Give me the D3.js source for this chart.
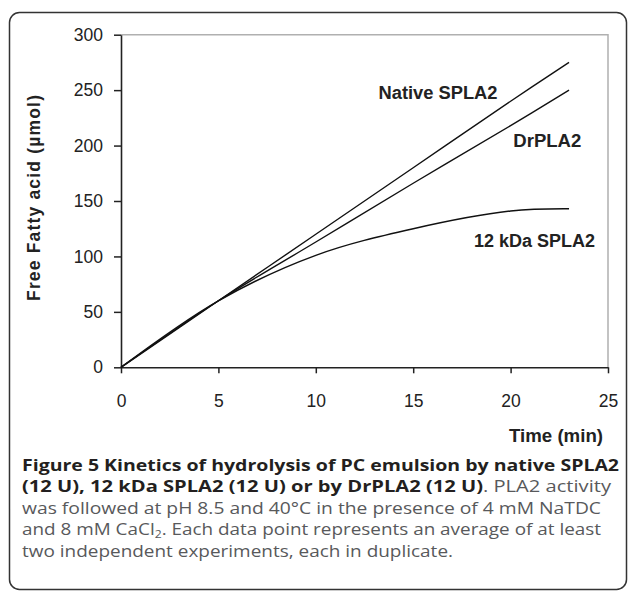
<!DOCTYPE html>
<html>
<head>
<meta charset="utf-8">
<script src="https://cdn.jsdelivr.net/npm/d3@7"></script>
<style>
  html, body { margin: 0; padding: 0; background: #fff; }
  svg { display: block; }
</style>
</head>
<body>
<svg id="chart" width="629" height="592"></svg>
<script>
// ---- data ----
const times = [0, 5, 10, 15, 20, 23];
const nativeSPLA2 = [0, 60, 120, 180, 240, 275];
const drPLA2 = [0, 60, 113, 166, 218, 250];
const kDa12SPLA2 = [0, 60, 101, 125, 141, 143];
const seriesNames = ["Native SPLA2", "DrPLA2", "12 kDa SPLA2"];
const xTicks = [0, 5, 10, 15, 20, 25];
const yTicks = [0, 50, 100, 150, 200, 250, 300];
const xTitle = "Time (min)";
const yTitle = "Free Fatty acid (µmol)";

const svg = d3.select("#chart");

// frame
svg.append("rect")
  .attr("x", 9.5).attr("y", 12.5).attr("width", 617).attr("height", 577)
  .attr("rx", 10).attr("ry", 10)
  .attr("fill", "none").attr("stroke", "#333").attr("stroke-width", 1.5);

const x = d3.scaleLinear().domain([0, 25]).range([121, 608]);
const y = d3.scaleLinear().domain([0, 300]).range([367.3, 34.7]);

// plot-area grey border (top and right)
svg.append("path")
  .attr("d", `M${x(0)},${y(300)}H${x(25)}V${y(0)}`)
  .attr("fill", "none").attr("stroke", "#b0b0b0").attr("stroke-width", 1.5);

const tickFont = "'Liberation Sans', Arial, sans-serif";

// y axis
const gy = svg.append("g").attr("transform", `translate(${x(0)},0)`)
  .call(d3.axisLeft(y).tickValues(yTicks).tickSize(7).tickSizeOuter(0).tickPadding(11));
gy.select(".domain").attr("stroke", "#222").attr("stroke-width", 1.6);
gy.selectAll(".tick line").attr("stroke", "#222").attr("stroke-width", 1.5);
gy.selectAll(".tick text").attr("font-family", tickFont).attr("font-size", 17.5).attr("fill", "#222");

// x axis
const gx = svg.append("g").attr("transform", `translate(0,${y(0)})`)
  .call(d3.axisBottom(x).tickValues(xTicks).tickSize(6).tickSizeOuter(0));
gx.select(".domain").attr("stroke", "#222").attr("stroke-width", 1.6);
gx.selectAll(".tick line").attr("stroke", "#222").attr("stroke-width", 1.5);
gx.selectAll(".tick text").attr("font-family", tickFont).attr("font-size", 17.5).attr("fill", "#222")
  .attr("y", 40).attr("dy", 0);

// lines
const line = d3.line()
  .x(d => x(d[0])).y(d => y(d[1]))
  .curve(d3.curveCatmullRom.alpha(0.5));
const series = [nativeSPLA2, drPLA2, kDa12SPLA2];
series.forEach(vals => {
  svg.append("path")
    .datum(times.map((t, i) => [t, vals[i]]))
    .attr("d", line)
    .attr("fill", "none").attr("stroke", "#111").attr("stroke-width", 1.4);
});

// series labels
const labelPos = [[378.5, 99.3], [513.3, 147.3], [474, 246.7]];
const labelLen = [119, 68, 121];
seriesNames.forEach((n, i) => {
  svg.append("text")
    .attr("x", labelPos[i][0]).attr("y", labelPos[i][1])
    .attr("font-family", tickFont).attr("font-weight", "bold").attr("font-size", 17.5)
    .attr("fill", "#222")
    .attr("textLength", labelLen[i]).attr("lengthAdjust", "spacingAndGlyphs")
    .text(n);
});

// axis titles
svg.append("text")
  .attr("x", 603).attr("y", 442)
  .attr("text-anchor", "end")
  .attr("font-family", tickFont).attr("font-weight", "bold").attr("font-size", 17.5)
  .attr("fill", "#222")
  .attr("textLength", 94).attr("lengthAdjust", "spacingAndGlyphs")
  .text(xTitle);

svg.append("text")
  .attr("transform", `translate(40,198) rotate(-90)`)
  .attr("text-anchor", "middle")
  .attr("font-family", tickFont).attr("font-weight", "bold").attr("font-size", 17.5)
  .attr("fill", "#222")
  .attr("textLength", 206).attr("lengthAdjust", "spacing")
  .text(yTitle);

// caption
const capFont = "'Open Sans', 'Noto Sans', sans-serif";
const capLines = [
  [["Figure 5 Kinetics of hydrolysis of PC emulsion by native SPLA2", true]],
  [["(12 U), 12 kDa SPLA2 (12 U) or by DrPLA2 (12 U)", true], [". PLA2 activity", false]],
  [["was followed at pH 8.5 and 40°C in the presence of 4 mM NaTDC", false]],
  [["and 8 mM CaCl", false], ["2", false, true], [". Each data point represents an average of at least", false]],
  [["two independent experiments, each in duplicate.", false]]
];
const capWidths = [597, 589, 579, 579, 431];
const capBase = [470.5, 492, 513.5, 535, 556.5];
capLines.forEach((parts, i) => {
  const t = svg.append("text")
    .attr("x", 22).attr("y", capBase[i])
    .attr("font-family", capFont).attr("font-size", 15.5)
    .attr("textLength", capWidths[i]).attr("lengthAdjust", "spacingAndGlyphs");
  parts.forEach(p => {
    const ts = t.append("tspan")
      .attr("font-weight", p[1] ? "bold" : "normal")
      .attr("fill", p[1] ? "#231f20" : "#58595b")
      .text(p[0]);
    if (p[2]) ts.attr("font-size", 10).attr("dy", 2.5);
    else if (i === 3 && p[0].startsWith(".")) ts.attr("dy", -2.5);
  });
});
</script>
</body>
</html>
